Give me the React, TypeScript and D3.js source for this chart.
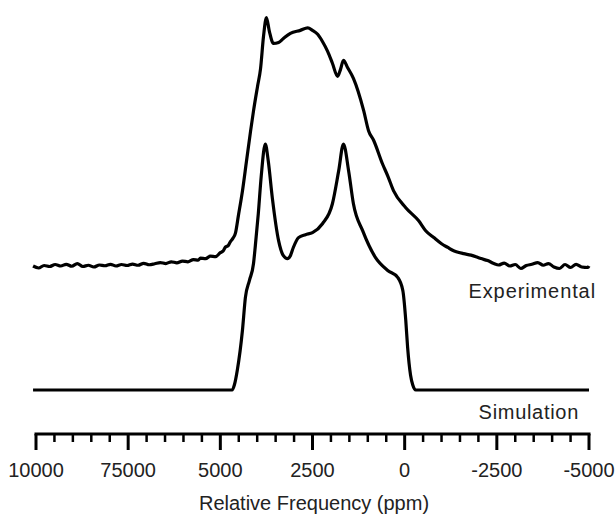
import * as d3 from 'd3';

// experimental spectrum (ppm, intensity)
const expPpm = [
  10080, 9930, 9780, 9630, 9480, 9330, 9180, 9030, 8880, 8730, 8580, 8430, 8280, 8130,
  7980, 7830, 7680, 7530, 7380, 7230, 7080, 6930, 6780, 6630, 6480, 6330, 6180, 6030,
  5880, 5730, 5600, 5540, 5400, 5270, 5130, 5000, 4930, 4860, 4790, 4730, 4660, 4590,
  4510, 4400, 4290, 4180, 4100, 3990, 3910, 3830, 3750, 3670, 3560, 3420, 3290, 3100,
  2830, 2630, 2500, 2360, 2230, 2090, 1960, 1820, 1740, 1660, 1550, 1390, 1110, 980,
  840, 600, 460, 300, -30, -380, -570, -790, -1000, -1170, -1300, -1400, -1600, -1800,
  -2070, -2250, -2420, -2550, -2700, -2850, -3000, -3150, -3300, -3450, -3610, -3760,
  -3900, -4050, -4200, -4350, -4500, -4650, -4800, -4970, -5000,
];
const expIntensity = [
  0.2, -0.6, 0.4, 0.0, 0.8, 0.2, 0.9, 0.1, 1.2, 0.0, 0.5, -0.2, 0.6, 0.3,
  0.9, 0.2, 0.8, 0.4, 1.0, 0.5, 1.3, 0.7, 1.1, 1.6, 1.2, 1.9, 1.5, 2.2,
  1.9, 2.8, 2.6, 3.4, 3.2, 4.2, 4.0, 5.6, 6.2, 7.9, 8.4, 10.0, 11.4, 13.5,
  20.6, 30.6, 42.7, 54.8, 63, 73, 80, 93, 100.8, 95.2, 90.3, 90.7, 92.3, 94.4,
  95.6, 96.6, 95.6, 94, 91.1, 87.1, 82.3, 77, 79.8, 83.5, 80.6, 76.2, 63, 55,
  51, 41.5, 36.7, 30.6, 23.8, 18.5, 14.5, 11.7, 9.2, 7.7, 6.6, 6.0, 5.2, 4.6,
  3.2, 2.4, 1.2, 0.6, 1.4, 0.2, 0.8, -0.8, 0.4, 0.9, 1.6, 0.5,
  1.2, -0.2, -0.8, 0.8, -0.4, 0.9, -0.2, -0.4, 0.2,
];

// simulated spectrum (ppm, intensity)
const simPpm = [
  10080, 4680, 4620, 4540, 4400, 4320, 4210, 4100, 4050, 3970, 3890, 3780, 3700, 3590,
  3420, 3290, 3180, 3100, 3020, 2880, 2690, 2500, 2230, 1960, 1790, 1660, 1520, 1390,
  1140, 790, 460, 190, 50, -30, -80, -160, -220, -300, -5000,
];
const simIntensity = [
  0, 0, 2, 8, 24.2, 37.5, 44.4, 51.2, 58.5, 71.4, 86.7, 99.6, 92.7, 77.8,
  60.5, 54.4, 53.2, 54.4, 57.7, 61.7, 62.9, 63.7, 67.3, 75.4, 88.7, 99.6, 88.7, 75.4,
  64.5, 53.6, 48.4, 45.6, 40.3, 28.2, 17.3, 6, 2, 0, 0,
];

const expOffset = 50; // experimental trace stacked above the simulation

const majorTicks = [10000, 7500, 5000, 2500, 0, -2500, -5000];
const tickLabels = ['10000', '75000', '5000', '2500', '0', '-2500', '-5000'];

const width = 616;
const height = 515;
const font = '"Liberation Sans", Arial, Helvetica, sans-serif';

export default function App() {
  const x = d3.scaleLinear().domain([10000, -5000]).range([36, 589]);
  const y = d3.scaleLinear().domain([0, 100]).range([390, 143]);
  const axisY = 434;

  const line = d3
    .line<[number, number]>()
    .curve(d3.curveMonotoneX)
    .x((d) => x(d[0]))
    .y((d) => y(d[1]));

  const expData = expPpm.map((p, i) => [p, expIntensity[i] + expOffset] as [number, number]);
  const simData = simPpm.map((p, i) => [p, simIntensity[i]] as [number, number]);

  const minorTicks = d3.range(10000, -5001, -500).filter((v) => v % 2500 !== 0);

  return (
    <svg
      width={width}
      height={height}
      style={{ position: 'absolute', left: 0, top: 0, background: '#fff' }}
    >
      <path d={line(expData) || ''} fill="none" stroke="#000" strokeWidth={3.2} strokeLinejoin="round" />
      <path d={line(simData) || ''} fill="none" stroke="#000" strokeWidth={3.2} strokeLinejoin="round" />

      <text x={596} y={298} textAnchor="end" fontFamily={font} fontSize={20} letterSpacing={0.9} fill="#222">
        Experimental
      </text>
      <text x={579} y={419} textAnchor="end" fontFamily={font} fontSize={20} letterSpacing={0.7} fill="#222">
        Simulation
      </text>

      {/* axis */}
      <line x1={x(10000) - 1.5} x2={x(-5000) + 1.5} y1={axisY} y2={axisY} stroke="#000" strokeWidth={3} />
      {minorTicks.map((v) => (
        <line key={'m' + v} x1={x(v)} x2={x(v)} y1={axisY} y2={axisY + 8} stroke="#000" strokeWidth={2.5} />
      ))}
      {majorTicks.map((v, i) => (
        <g key={v}>
          <line x1={x(v)} x2={x(v)} y1={axisY} y2={axisY + 16} stroke="#000" strokeWidth={3} />
          <text x={x(v)} y={477} textAnchor="middle" fontFamily={font} fontSize={20} fill="#222">
            {tickLabels[i]}
          </text>
        </g>
      ))}
      <text x={314} y={510} textAnchor="middle" fontFamily={font} fontSize={20} fill="#222">
        Relative Frequency (ppm)
      </text>
    </svg>
  );
}
